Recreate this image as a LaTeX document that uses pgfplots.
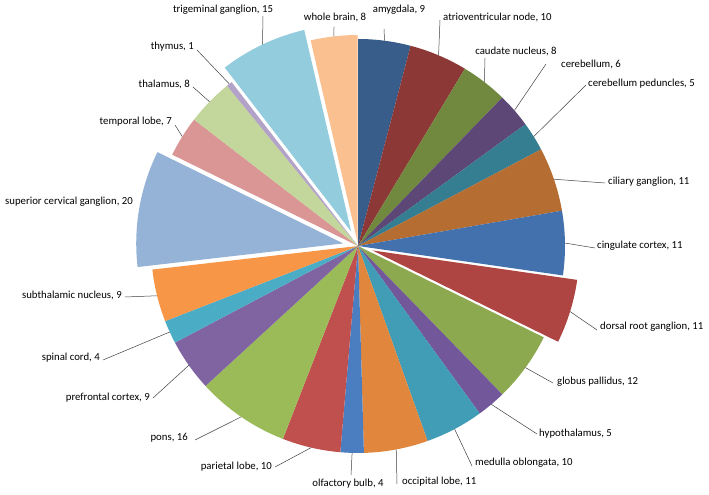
\documentclass[border=0pt]{standalone}
\usepackage{pgfplots}
\pgfplotsset{compat=1.18}
\usepackage{pgfplotstable}
\usepackage{fontspec}
\setmainfont{Carlito}

% slice colours, in table order
\definecolor{s0}{HTML}{385D8A}
\definecolor{s1}{HTML}{8C3836}
\definecolor{s2}{HTML}{71893F}
\definecolor{s3}{HTML}{5C4776}
\definecolor{s4}{HTML}{357D91}
\definecolor{s5}{HTML}{B66D31}
\definecolor{s6}{HTML}{4371AE}
\definecolor{s7}{HTML}{AE4542}
\definecolor{s8}{HTML}{8CA94F}
\definecolor{s9}{HTML}{72579A}
\definecolor{s10}{HTML}{419CB5}
\definecolor{s11}{HTML}{E0873D}
\definecolor{s12}{HTML}{4A7EC0}
\definecolor{s13}{HTML}{C0504D}
\definecolor{s14}{HTML}{9BBB59}
\definecolor{s15}{HTML}{8064A2}
\definecolor{s16}{HTML}{4BACC6}
\definecolor{s17}{HTML}{F79646}
\definecolor{s18}{HTML}{95B3D7}
\definecolor{s19}{HTML}{D99694}
\definecolor{s20}{HTML}{C3D69B}
\definecolor{s21}{HTML}{B3A2C7}
\definecolor{s22}{HTML}{93CDDD}
\definecolor{s23}{HTML}{FAC090}

% value, explode offset, label position (px, y down), leader end
\pgfplotstableread[col sep=comma]{
name,value,explode,lx,ly,anc,lead,ex,ey
amygdala,9,0,399,10,center,1,384,29
atrioventricular node,10,0,443,17,west,1,440,20
caudate nucleus,8,0,516,51,center,1,485,58
cerebellum,6,0,561,64,west,1,546,64
cerebellum peduncles,5,0,588,84,west,1,586,85
ciliary ganglion,11,0,608,182,west,1,605,183
cingulate cortex,11,0,597,246,west,1,595,248
dorsal root ganglion,11,15,600,327,west,1,597,330
globus pallidus,12,0,557,382,west,1,553,383
hypothalamus,5,0,539,434,west,1,537,434
medulla oblongata,10,0,475,463,west,1,472,466
occipital lobe,11,0,402,482,west,1,397,484
olfactory bulb,4,0,348,484,center,1,351,475
parietal lobe,10,0,272,467,east,1,275,467
pons,16,0,188,438,east,1,195,440
prefrontal cortex,9,0,150,398,east,1,153,398
spinal cord,4,0,100,358,east,1,103,360
subthalamic nucleus,9,0,122,295,east,1,125,297
superior cervical ganglion,20,15,133,202,east,0,0,0
temporal lobe,7,0,172,122,east,1,175,125
thalamus,8,0,190,84,east,1,193,87
thymus,1,0,194,47,east,1,197,50
trigeminal ganglion,15,16,223,10,center,1,263,16
whole brain,8,4,335,17,center,1,334,27
}\slices

\begin{document}
\begin{tikzpicture}
\pgfplotstablegetrowsof{\slices}
\pgfmathtruncatemacro\last{\pgfplotsretval-1}
\pgfmathsetmacro\total{0}
\pgfplotsforeachungrouped \i in {0,...,\last}{%
  \pgfplotstablegetelem{\i}{value}\of\slices
  \pgfmathsetmacro\total{\total+\pgfplotsretval}}
\begin{axis}[hide axis, scale only axis, width=709bp, height=495bp,
    xmin=0, xmax=709, ymin=0, ymax=495, clip=false]
\coordinate (bl) at (axis cs:0,0);
\coordinate (tr) at (axis cs:709,495);
\def\R{207}
\pgfmathsetmacro\cum{0}
\pgfplotsforeachungrouped \i in {0,...,\last}{%
  \pgfplotstablegetelem{\i}{value}\of\slices \let\v\pgfplotsretval
  \pgfplotstablegetelem{\i}{explode}\of\slices \let\xo\pgfplotsretval
  \pgfplotstablegetelem{\i}{name}\of\slices \let\nm\pgfplotsretval
  \pgfplotstablegetelem{\i}{lx}\of\slices \let\lx\pgfplotsretval
  \pgfplotstablegetelem{\i}{ly}\of\slices \pgfmathsetmacro\ly{495-\pgfplotsretval}
  \pgfplotstablegetelem{\i}{anc}\of\slices \let\anc\pgfplotsretval
  \pgfplotstablegetelem{\i}{lead}\of\slices \let\ld\pgfplotsretval
  \pgfplotstablegetelem{\i}{ex}\of\slices \let\ex\pgfplotsretval
  \pgfplotstablegetelem{\i}{ey}\of\slices \pgfmathsetmacro\ey{495-\pgfplotsretval}
  \pgfmathsetmacro\aa{90-\cum/\total*360}
  \pgfmathsetmacro\ab{90-(\cum+\v)/\total*360}
  \pgfmathsetmacro\am{(\aa+\ab)/2}
  \pgfmathsetmacro\cx{358+\xo*cos(\am)}
  \pgfmathsetmacro\cy{249+\xo*sin(\am)}
  \pgfmathsetmacro\sx{358+(\R+\xo)*cos(\am)}
  \pgfmathsetmacro\sy{249+(\R+\xo)*sin(\am)}
  \edef\cmd{\noexpand\fill[s\i] (axis cs:\cx,\cy) -- ++(\aa:\R bp)
    arc[start angle=\aa, end angle=\ab, radius=\R bp] -- cycle;
    \noexpand\node[anchor=\anc, inner sep=0pt, font=\noexpand\fontsize{10.8}{13}\noexpand\selectfont]
      at (axis cs:\lx,\ly) {\nm, \v};}
  \cmd
  \ifnum\ld=1
    \edef\cmd{\noexpand\draw[black!75, line width=0.5bp] (axis cs:\sx,\sy) -- (axis cs:\ex,\ey);}
    \cmd
  \fi
  \pgfmathsetmacro\cum{\cum+\v}
}
\end{axis}
\pgfresetboundingbox
\path (bl) rectangle (tr);
\end{tikzpicture}
\end{document}
